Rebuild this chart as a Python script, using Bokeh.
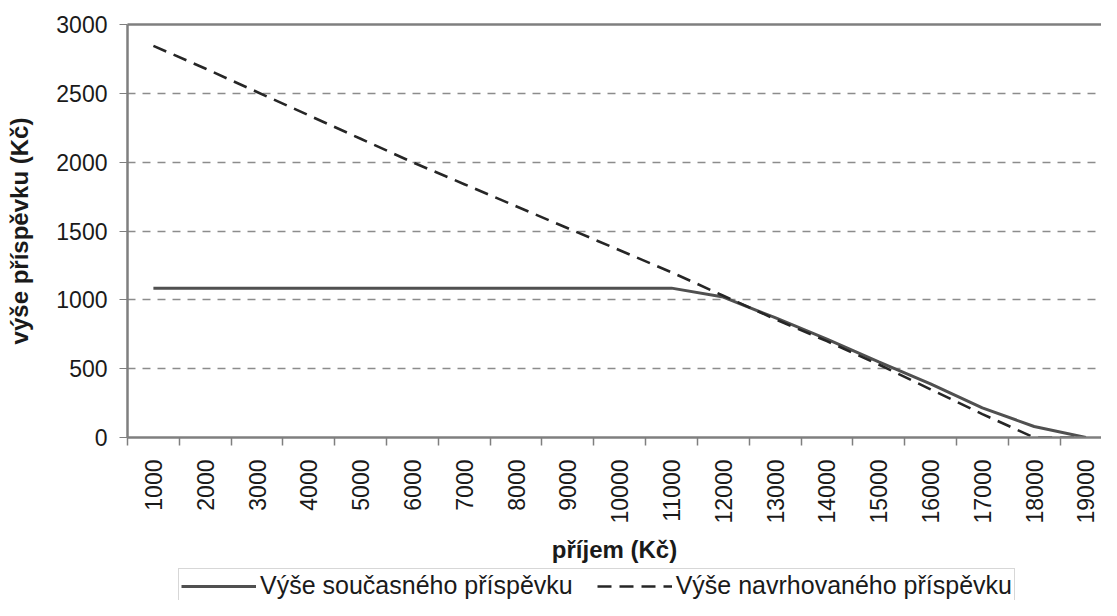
import math
from bokeh.plotting import figure
from bokeh.layouts import column
from bokeh.models import (Range1d, FixedTicker, LinearAxis, Legend, LegendItem)
from bokeh.embed import file_html
from bokeh.resources import INLINE

# ---- data ----
income = [1000, 2000, 3000, 4000, 5000, 6000, 7000, 8000, 9000, 10000,
          11000, 12000, 13000, 14000, 15000, 16000, 17000, 18000, 19000]
current = [1085, 1085, 1085, 1085, 1085, 1085, 1085, 1085, 1085, 1085,
           1085, 1020, 870, 715, 550, 390, 215, 80, 0]
proposed = [2845, 2680, 2510, 2340, 2170, 2000, 1840, 1680, 1520, 1360,
            1200, 1030, 860, 700, 530, 350, 170, 0, 0]
y_ticks = [0, 500, 1000, 1500, 2000, 2500, 3000]
label_current = "Výše současného příspěvku"
label_proposed = "Výše navrhovaného příspěvku"
x_title = "příjem (Kč)"
y_title = "výše příspěvku (Kč)"

FONT = "Liberation Sans"
GRAY = "#7f7f7f"
CUR_STYLE = dict(line_color="#505050", line_width=3)
PROP_STYLE = dict(line_color="#262626", line_width=2.6, line_dash="14 8")

step = income[1] - income[0]
boundaries = [v - step / 2 for v in income]

p = figure(width=1101, height=566, output_backend="svg",
           toolbar_location=None,
           x_range=Range1d(income[0] - step / 2, income[0] - step / 2 + 18.8 * step),
           y_range=Range1d(0, 3000),
           min_border_left=127, min_border_right=0, min_border_top=24,
           min_border_bottom=128)
p.outline_line_color = None
p.background_fill_color = "white"
p.border_fill_color = "white"

r_cur = p.line(income, current, **CUR_STYLE)
r_prop = p.line(income, proposed, **PROP_STYLE)

# x axis
xa = p.xaxis[0]
xa.ticker = FixedTicker(ticks=income, minor_ticks=boundaries)
xa.major_tick_line_color = None
xa.major_tick_out = 0
xa.major_tick_in = 0
xa.minor_tick_line_color = GRAY
xa.minor_tick_line_width = 1.5
xa.minor_tick_out = 8
xa.minor_tick_in = 0
xa.major_label_orientation = math.pi / 2
xa.major_label_standoff = 14
xa.major_label_text_font = FONT
xa.major_label_text_font_size = "23px"
xa.major_label_text_color = "#1a1a1a"
xa.axis_line_color = GRAY
xa.axis_line_width = 2.5
xa.axis_label = x_title
xa.axis_label_text_font = FONT
xa.axis_label_text_font_size = "24px"
xa.axis_label_text_font_style = "bold"
xa.axis_label_text_color = "#1a1a1a"
xa.axis_label_standoff = 10

# y axis
ya = p.yaxis[0]
ya.ticker = FixedTicker(ticks=y_ticks)
ya.minor_tick_line_color = None
ya.major_tick_line_color = GRAY
ya.major_tick_out = 8
ya.major_tick_in = 0
ya.major_label_standoff = 12
ya.major_label_text_font = FONT
ya.major_label_text_font_size = "23px"
ya.major_label_text_color = "#1a1a1a"
ya.axis_line_color = GRAY
ya.axis_line_width = 2.5
ya.axis_label = y_title
ya.axis_label_text_font = FONT
ya.axis_label_text_font_size = "24px"
ya.axis_label_text_font_style = "bold"
ya.axis_label_text_color = "#1a1a1a"
ya.axis_label_standoff = 20

# top border as an empty axis
top = LinearAxis(ticker=FixedTicker(ticks=[]), axis_line_color=GRAY,
                 axis_line_width=2.5, major_tick_line_color=None,
                 minor_tick_line_color=None, major_label_text_font_size="0px",
                 major_label_standoff=0)
p.add_layout(top, "above")

# grid
p.xgrid.grid_line_color = None
p.ygrid.ticker = FixedTicker(ticks=y_ticks[1:])
p.ygrid.grid_line_color = "#8c8c8c"
p.ygrid.grid_line_width = 1.4
p.ygrid.grid_line_dash = "8 7"

# legend strip under the chart (single-point lines draw nothing but give legend glyphs)
q = figure(width=1101, height=34, output_backend="svg", toolbar_location=None,
           x_range=Range1d(0, 1), y_range=Range1d(0, 1),
           min_border=0, x_axis_type=None, y_axis_type=None)
q.outline_line_color = None
q.grid.grid_line_color = None
q_cur = q.line(income[:1], current[:1], **CUR_STYLE)
q_prop = q.line(income[:1], proposed[:1], **PROP_STYLE)
legend = Legend(items=[LegendItem(label=label_current, renderers=[q_cur]),
                       LegendItem(label=label_proposed, renderers=[q_prop])],
                orientation="horizontal", location=(51, -3))
legend.label_text_font = FONT
legend.label_text_font_size = "25px"
legend.label_text_color = "#1a1a1a"
legend.label_height = 22
legend.glyph_width = 75
legend.glyph_height = 22
legend.label_standoff = 4
legend.spacing = 24
legend.padding = 2
legend.margin = 0
legend.border_line_color = "#b0b0b0"
legend.border_line_width = 1.5
q.add_layout(legend, "center")

open("out.html", "w").write(file_html(column(p, q, spacing=0), INLINE))
